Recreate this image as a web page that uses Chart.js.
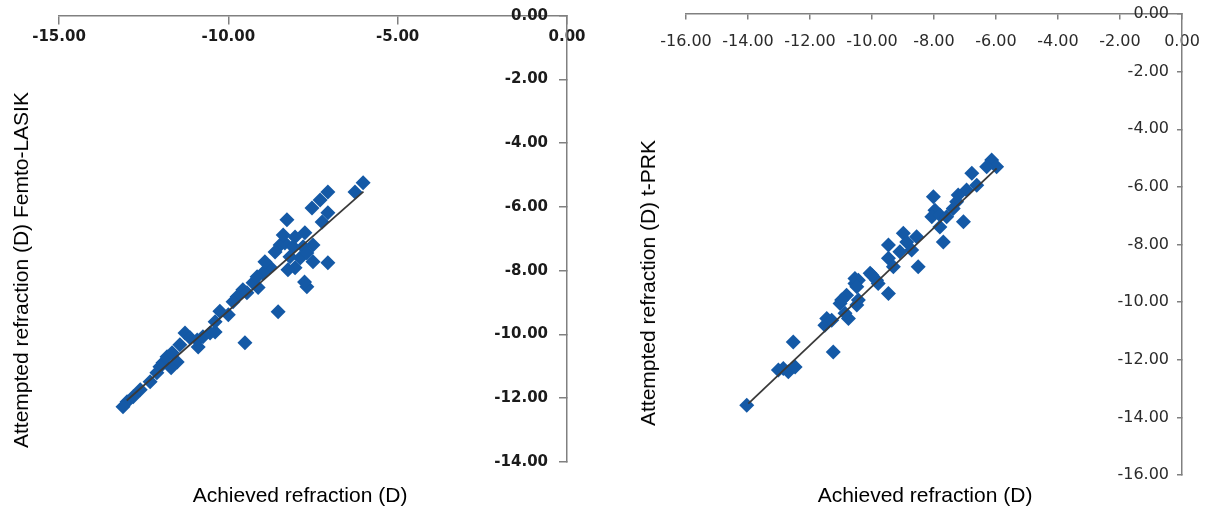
<!DOCTYPE html>
<html>
<head>
<meta charset="utf-8">
<script src="https://cdn.jsdelivr.net/npm/chart.js@4.4.0/dist/chart.umd.min.js"></script>
<style>
  html, body { margin: 0; padding: 0; background: #fff; }
  body { width: 1209px; height: 512px; position: relative; overflow: hidden; }
  canvas { position: absolute; top: 0; }
  .title { position: absolute; font-family: "Liberation Sans", Arial, sans-serif; font-size: 21px;
           color: #000; white-space: nowrap; transform: translate(-50%, -50%); }
  .title.vert { transform: translate(-50%, -50%) rotate(-90deg); }
</style>
</head>
<body>
<canvas id="femto" width="600" height="512" style="left:0"></canvas>
<canvas id="tprk" width="609" height="512" style="left:600px"></canvas>
<div class="title" style="left:300px; top:495px">Achieved refraction (D)</div>
<div class="title vert" style="left:21px; top:270px">Attempted refraction (D) Femto-LASIK</div>
<div class="title" style="left:925px; top:495px">Achieved refraction (D)</div>
<div class="title vert" style="left:648px; top:283px">Attempted refraction (D) t-PRK</div>
<script>
// Femto-LASIK (left panel)
const femtoAchieved = [
  -6.02, -6.26, -7.06, -7.29, -7.53, -7.06, -7.23, -8.27, -7.74, -8.47,
  -8.62, -8.33, -8.09, -7.79, -8.18, -7.88, -7.68, -8.03, -8.24, -7.06,
  -7.68, -8.53, -9.51, -8.77, -8.98, -9.27, -9.57, -9.74, -9.86, -9.45,
  -9.15, -10.25, -12.99, -13.11, -12.81, -12.31, -12.11, -11.93, -12.02, -11.81,
  -11.66, -11.51, -11.28, -11.13, -10.92, -10.75, -10.54, -10.39, -10.89, -8.92,
  -8.38, -8.03, -7.50, -7.50, -10.39, -10.00, -11.43, -12.60, -11.69, -9.12,
  -7.75
];
const femtoAttempted = [
  -5.24, -5.53, -5.53, -5.78, -6.03, -6.18, -6.47, -6.40, -6.81, -7.19,
  -7.41, -7.13, -7.25, -7.25, -7.56, -7.60, -7.44, -7.91, -7.97, -7.75,
  -8.50, -9.29, -10.26, -7.88, -8.07, -8.38, -8.60, -8.82, -8.97, -8.69,
  -8.19, -9.27, -12.11, -12.27, -11.95, -11.48, -11.20, -10.89, -11.01, -10.70,
  -10.57, -10.86, -9.95, -10.10, -10.17, -10.07, -9.95, -9.92, -10.39, -7.72,
  -6.88, -6.94, -7.19, -7.72, -9.60, -9.38, -10.32, -11.73, -11.04, -8.53,
  -8.35
];
const femtoFitX = [-13.0, -6.01];
const femtoFitY = [-12.07, -5.52];

// t-PRK (right panel)
const prkAchieved = [
  -14.04, -13.02, -12.86, -12.70, -12.48, -12.54, -11.25, -11.52, -11.46, -11.30,
  -11.03, -10.76, -10.87, -10.49, -10.44, -10.55, -10.44, -10.06, -9.85, -6.14,
  -5.98, -6.30, -6.78, -6.62, -6.95, -7.22, -7.27, -7.38, -7.05, -8.02,
  -7.97, -8.07, -7.81, -7.59, -7.70, -7.81, -8.99, -8.56, -8.88, -9.47,
  -8.72, -9.10, -9.47, -8.51, -9.31, -10.01, -10.55, -10.49, -9.47, -9.80,
  -10.82, -10.98
];
const prkAttempted = [
  -13.58, -12.36, -12.30, -12.42, -12.25, -11.38, -11.73, -10.80, -10.57, -10.63,
  -10.05, -10.57, -10.39, -10.10, -9.93, -9.35, -9.24, -9.00, -9.24, -5.07,
  -5.30, -5.30, -5.53, -5.94, -6.11, -6.28, -6.52, -6.75, -7.21, -6.34,
  -6.81, -7.04, -6.98, -7.04, -7.91, -7.39, -7.61, -7.73, -7.91, -8.02,
  -8.19, -8.25, -8.48, -8.77, -8.77, -9.06, -9.18, -9.47, -9.70, -9.35,
  -9.76, -9.93
];
const prkFitX = [-13.99, -5.98];
const prkFitY = [-13.52, -5.36];

const BLUE = '#1459a6';
const zip = (xs, ys) => xs.map((x, i) => ({ x: x, y: ys[i] }));
const fmt = v => Number(v).toFixed(2);

function drawPanel(id, o) {
  return new Chart(document.getElementById(id), {
    type: 'scatter',
    data: {
      datasets: [
        {
          data: zip(o.fitX, o.fitY),
          showLine: true,
          borderColor: '#3a3a3a',
          borderWidth: 1.8,
          pointRadius: 0,
          order: 0
        },
        {
          data: zip(o.xs, o.ys),
          pointStyle: 'rectRot',
          pointRadius: 7.5,
          pointHoverRadius: 7.5,
          backgroundColor: BLUE,
          borderWidth: 0,
          order: 1
        }
      ]
    },
    options: {
      responsive: false,
      animation: false,
      layout: { padding: o.pad },
      plugins: { legend: { display: false }, tooltip: { enabled: false } },
      scales: {
        // x axis sits on y = 0 (top edge), labels hang below it
        x: {
          type: 'linear',
          position: { y: 0 },
          min: o.xMin, max: 0,
          ticks: { stepSize: o.xStep, callback: fmt, font: o.font, color: o.tickColor, padding: o.xPad, maxRotation: 0 },
          grid: { drawOnChartArea: false, drawTicks: true, tickLength: o.tickLen, color: '#808080', lineWidth: 1.5 },
          border: { color: '#808080', width: 1.5 },
          afterFit: s => { s.height = 0; s.paddingLeft = 0; s.paddingRight = 0; }
        },
        // y axis on the right edge, labels mirrored inside, ticks pointing in
        y: {
          type: 'linear',
          position: 'right',
          min: o.yMin, max: 0,
          ticks: { stepSize: 2, callback: fmt, font: o.font, color: o.tickColor, padding: -o.yPad, mirror: true },
          grid: { drawOnChartArea: false, drawTicks: true, tickLength: -o.tickLen, color: '#808080', lineWidth: 1.5 },
          border: { color: '#808080', width: 1.5 },
          afterFit: s => { s.width = 0; s.paddingTop = 0; s.paddingBottom = 0; }
        }
      }
    }
  });
}

drawPanel('femto', {
  xs: femtoAchieved, ys: femtoAttempted, fitX: femtoFitX, fitY: femtoFitY,
  xMin: -15, xStep: 5, yMin: -14,
  pad: { left: 59, top: 15.7, right: 33, bottom: 50 },
  font: { family: 'DejaVu Sans', size: 15, weight: 'bold' },
  tickColor: '#1b1b1b', tickLen: 8, xPad: 4, yPad: 19
});

drawPanel('tprk', {
  xs: prkAchieved, ys: prkAttempted, fitX: prkFitX, fitY: prkFitY,
  xMin: -16, xStep: 2, yMin: -16,
  pad: { left: 86, top: 14, right: 27, bottom: 37 },
  font: { family: 'DejaVu Sans', size: 16 },
  tickColor: '#2b2b2b', tickLen: 5, xPad: 13, yPad: 13
});
</script>
</body>
</html>
